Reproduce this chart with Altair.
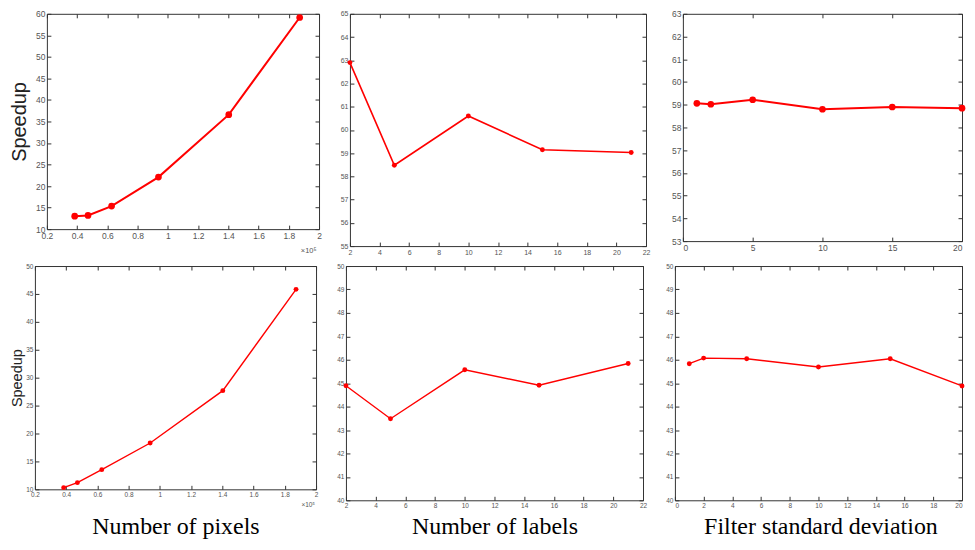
import altair as alt
import pandas as pd

# ---------------- data ----------------
pix_x = [0.384, 0.472, 0.628, 0.938, 1.403, 1.872]          # x 10^5 pixels
pix_top = [13.02, 13.18, 15.35, 22.09, 36.59, 59.15]
pix_bottom = [10.3, 11.19, 13.52, 18.3, 27.67, 45.82]

lab_x = [2, 5, 10, 15, 21]
lab_top = [62.9, 58.48, 60.6, 59.15, 59.03]
lab_bottom = [44.89, 43.48, 45.57, 44.91, 45.84]

sd_x = [1, 2, 5, 10, 15, 20]
sd_top = [59.06, 59.02, 59.22, 58.8, 58.9, 58.85]
sd_bottom = [45.83, 46.07, 46.04, 45.69, 46.04, 44.88]

pix_ticks = [0.2, 0.4, 0.6, 0.8, 1, 1.2, 1.4, 1.6, 1.8, 2]
pix_top_yticks = [10, 15, 20, 25, 30, 35, 40, 45, 50, 55, 60]
pix_bottom_yticks = [10, 15, 20, 25, 30, 35, 40, 45, 50]
lab_ticks = [2, 4, 6, 8, 10, 12, 14, 16, 18, 20, 22]
lab_top_yticks = [55, 56, 57, 58, 59, 60, 61, 62, 63, 64, 65]
lab_bottom_yticks = [40, 41, 42, 43, 44, 45, 46, 47, 48, 49, 50]
sd_top_ticks = [0, 5, 10, 15, 20]
sd_bottom_ticks = [0, 2, 4, 6, 8, 10, 12, 14, 16, 18, 20]
sd_top_yticks = [53, 54, 55, 56, 57, 58, 59, 60, 61, 62, 63]
sd_bottom_yticks = [40, 41, 42, 43, 44, 45, 46, 47, 48, 49, 50]

y_title = "Speedup"
x_titles = ["Number of pixels", "Number of labels", "Filter standard deviation"]
exp_label = ["×10⁵"]

RED = "#ff0000"
T = 4  # inward tick length


def spacer(w, h):
    return alt.Chart(pd.DataFrame({"s": [0]})).mark_point(opacity=0).encode(
        x=alt.X("s:Q", axis=None), y=alt.Y("s:Q", axis=None)
    ).properties(width=w, height=h, view=alt.ViewBackground(strokeOpacity=0))


def panel(xs, ys, xdom, ydom, xticks, yticks, w, h, fs, ms, lw,
          ytitle=None, ytitle_size=14, ytitle_pad=4,
          xtitle=None, xtitle_kw=None, xflush=False, exp_text=False):
    df = pd.DataFrame({"x": xs, "y": ys})
    xsc = alt.Scale(domain=xdom, nice=False, zero=False)
    ysc = alt.Scale(domain=ydom, nice=False, zero=False)
    common = dict(tickSize=T, offset=-T, domain=False, grid=False,
                  tickColor="#333333", tickWidth=1)
    xkw = dict(orient="bottom", values=xticks, format="~g", labelFontSize=fs,
               labelPadding=2, labelFlush=xflush, labelOverlap=False,
               title=xtitle, **common)
    if xtitle_kw:
        xkw.update(xtitle_kw)
    ykw = dict(orient="left", values=yticks, format="~g", labelFontSize=fs,
               labelPadding=2, labelOverlap=False, title=ytitle,
               titleFontSize=ytitle_size, titleFontWeight="normal",
               titleColor="#222222", titlePadding=ytitle_pad, **common)
    base = alt.Chart(df)
    line = base.mark_line(color=RED, strokeWidth=lw).encode(
        x=alt.X("x:Q", scale=xsc, axis=alt.Axis(**xkw)),
        y=alt.Y("y:Q", scale=ysc, axis=alt.Axis(**ykw)),
    )
    pts = base.mark_circle(color=RED, size=ms, opacity=1).encode(
        x=alt.X("x:Q", scale=xsc, axis=None),
        y=alt.Y("y:Q", scale=ysc, axis=None),
    )
    frame = base.mark_point(opacity=0).encode(
        x=alt.X("x:Q", scale=xsc, axis=alt.Axis(orient="top", values=xticks,
                                                 labels=False, title=None, **common)),
        y=alt.Y("y:Q", scale=ysc, axis=alt.Axis(orient="right", values=yticks,
                                                 labels=False, title=None, **common)),
    )
    layers = [line, pts, frame]
    if exp_text:
        tdf = pd.DataFrame({"t": exp_label})
        layers.append(
            alt.Chart(tdf).mark_text(align="right", baseline="alphabetic",
                                     fontSize=6.5, color="#555555",
                                     font="Liberation Sans").encode(
                text="t:N", x=alt.value(w - 1), y=alt.value(h + 18))
        )
    return alt.layer(*layers).resolve_axis(x="independent", y="independent").properties(
        width=w, height=h)


serif_title = dict(titleFont="Liberation Serif", titleFontSize=24,
                   titleFontWeight="normal", titleColor="#000000",
                   titleAlign="center", titleBaseline="alphabetic")

p1 = panel(pix_x, pix_top, [0.2, 2], [10, 60], pix_ticks, pix_top_yticks,
           273, 216, 8.5, 45, 2, ytitle=y_title, ytitle_size=20, ytitle_pad=6,
           xtitle=exp_label[0],
           xtitle_kw=dict(titleFontSize=7.5, titleColor="#555555", titleFontWeight="normal",
                          titleAlign="right", titleBaseline="alphabetic",
                          titleX=270, titleY=27))
p2 = panel(lab_x, lab_top, [2, 22], [55, 65], lab_ticks, lab_top_yticks,
           297, 233, 7, 24, 1.6)
p3 = panel(sd_x, sd_top, [0, 20], [53, 63], sd_top_ticks, sd_top_yticks,
           280, 228, 8.5, 45, 2, xflush=True)

p4 = panel(pix_x, pix_bottom, [0.2, 2], [10, 50], pix_ticks, pix_bottom_yticks,
           282, 224, 6.5, 24, 1.4, ytitle=y_title, ytitle_size=14.5, ytitle_pad=1.5,
           xtitle=x_titles[0], xtitle_kw=dict(titleX=141, titleY=48, **serif_title),
           exp_text=True)
p5 = panel(lab_x, lab_bottom, [2, 22], [40, 50], lab_ticks, lab_bottom_yticks,
           298, 235, 6.5, 24, 1.4,
           xtitle=x_titles[1], xtitle_kw=dict(titleX=149, titleY=37, **serif_title))
p6 = panel(sd_x, sd_bottom, [0, 20], [40, 50], sd_bottom_ticks, sd_bottom_yticks,
           288, 235, 6.5, 24, 1.4, xflush=True,
           xtitle=x_titles[2], xtitle_kw=dict(titleX=146, titleY=37, **serif_title))

row1 = alt.hconcat(spacer(12, 1), p1, spacer(31, 1), p2, spacer(37, 1), p3,
                   spacing=0, bounds="flush")
row2 = alt.hconcat(p4, spacer(30, 1), p5, spacer(32, 1), p6,
                   spacing=0, bounds="flush")

chart = alt.vconcat(row1, row2, spacing=6).properties(padding=0).configure_view(
    stroke="#333333", strokeWidth=1
).configure_axis(
    labelFont="Liberation Sans", labelColor="#555555", titleFont="Liberation Sans"
)

chart.save("out.html", embed_options={"renderer": "svg", "actions": False})
